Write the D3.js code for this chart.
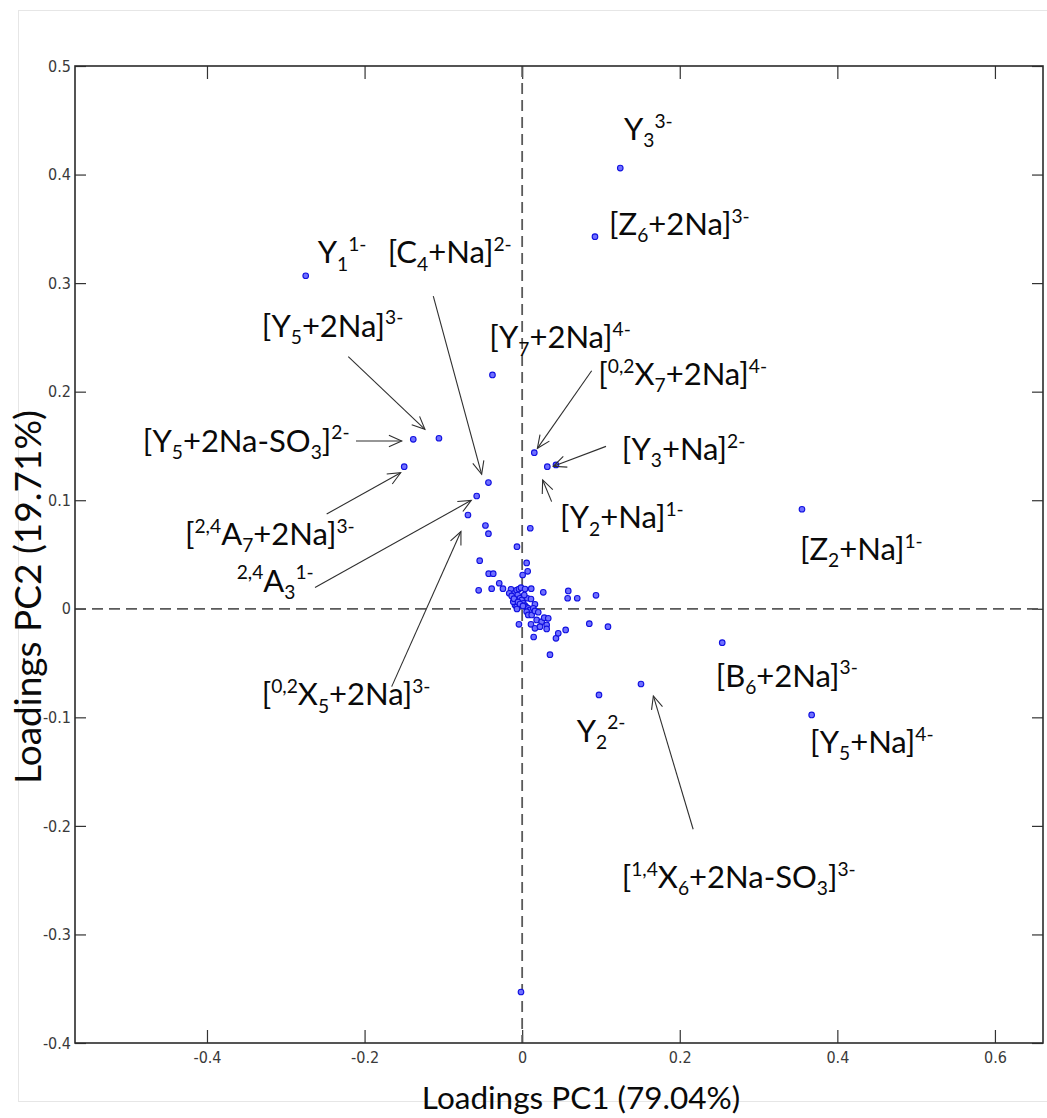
<!DOCTYPE html>
<html><head><meta charset="utf-8">
<script src="https://cdn.jsdelivr.net/npm/d3@7"></script>
<style>body{margin:0;background:#fff}svg{display:block}</style>
</head><body>
<svg id="chart" width="1047" height="1118"></svg>
<script>
// ---- data: loadings on PC1 / PC2 ----
const pc1 = [0.1245,0.0924,-0.2747,-0.0377,-0.1382,-0.1056,-0.1497,0.0154,0.0319,0.0429,
  0.3551,-0.0428,-0.0577,-0.0688,-0.0466,-0.0428,0.0103,-0.0066,-0.0539,0.0057,
  0.0070,-0.0425,-0.0367,0.0006,-0.0291,-0.0244,-0.0387,-0.0552,0.0115,0.0268,
  0.0585,0.0577,0.0699,0.0937,0.0852,0.1089,0.0353,0.0429,0.0552,0.0146,
  -0.0041,0.0112,0.0184,0.0247,0.0280,0.0311,0.0331,0.0162,0.0226,0.0311,
  0.0458,0.2539,0.0975,0.1508,0.3674,-0.0015,-0.0142,-0.0100,-0.0070,-0.0041,
  -0.0015,0.0036,-0.0057,-0.0028,-0.0006,0.0014,0.0036,0.0057,0.0077,0.0099,
  0.0065,0.0112,0.0162,0.0141,0.0057,0.0077,0.0121,0.0162,0.0204,-0.0091,
  -0.0070,-0.0113,0.0027,-0.0164,-0.0133,-0.0104,-0.0053,-0.0028,0.0010,-0.0066];
const pc2 = [0.4060,0.3428,0.3068,0.2154,0.1561,0.1571,0.1309,0.1438,0.1309,0.1325,
  0.0917,0.1163,0.1039,0.0864,0.0767,0.0692,0.0742,0.0572,0.0443,0.0422,
  0.0345,0.0323,0.0323,0.0311,0.0235,0.0185,0.0185,0.0170,0.0185,0.0152,
  0.0164,0.0097,0.0097,0.0124,-0.0137,-0.0165,-0.0423,-0.0272,-0.0195,-0.0260,
  -0.0143,-0.0143,-0.0103,-0.0119,-0.0082,-0.0149,-0.0088,-0.0180,-0.0165,-0.0186,
  -0.0226,-0.0312,-0.0794,-0.0693,-0.0978,-0.3530,0.0180,0.0143,0.0173,0.0182,
  0.0194,0.0182,0.0127,0.0097,0.0081,0.0051,0.0029,0.0014,0.0005,-0.0011,
  0.0097,0.0090,0.0041,0.0005,-0.0027,-0.0057,-0.0057,-0.0020,-0.0032,0.0035,
  0.0019,0.0065,0.0127,0.0143,0.0118,0.0093,0.0063,0.0044,0.0026,-0.0002];

// ---- axes ----
const xTicks = [-0.4,-0.2,0,0.2,0.4,0.6];
const xTickLabels = ["-0.4","-0.2","0","0.2","0.4","0.6"];
const yTicks = [-0.4,-0.3,-0.2,-0.1,0,0.1,0.2,0.3,0.4,0.5];
const yTickLabels = ["-0.4","-0.3","-0.2","-0.1","0","0.1","0.2","0.3","0.4","0.5"];
const xTitle = "Loadings PC1 (79.04%)";
const yTitle = "Loadings PC2 (19.71%)";

// ---- annotations (text, anchor in PC1/PC2 units) ----
const labelTexts = ["Y_{3}^{3-}","[Z_{6}+2Na]^{3-}","Y_{1}^{1-}","[C_{4}+Na]^{2-}","[Y_{5}+2Na]^{3-}",
  "[Y_{7}+2Na]^{4-}","[^{0,2}X_{7}+2Na]^{4-}","[Y_{5}+2Na-SO_{3}]^{2-}","[Y_{3}+Na]^{2-}","[Y_{2}+Na]^{1-}",
  "[^{2,4}A_{7}+2Na]^{3-}","[Z_{2}+Na]^{1-}","^{2,4}A_{3}^{1-}","[B_{6}+2Na]^{3-}","[^{0,2}X_{5}+2Na]^{3-}",
  "Y_{2}^{2-}","[Y_{5}+Na]^{4-}","[^{1,4}X_{6}+2Na-SO_{3}]^{3-}"];
const labelPC1 = [0.1292,0.1102,-0.2595,-0.1707,-0.3306,-0.0418,0.0966,-0.4816,0.1263,0.0480,
  -0.4279,0.3525,-0.3623,0.2456,-0.3306,0.0692,0.3652,0.1263];
const labelPC2 = [0.4318,0.3443,0.3183,0.3183,0.2506,0.2400,0.2062,0.1447,0.1371,0.0742,
  0.0588,0.0450,0.0158,-0.0718,-0.0890,-0.1224,-0.1328,-0.2572];

// arrows: start -> end (PC1/PC2 units)
const arrowFromPC1 = [-0.1128,-0.2207,-0.2109,-0.2481,-0.2629,-0.1656,0.0882,0.1064,0.0374,0.2170];
const arrowFromPC2 = [0.2881,0.2322,0.1546,0.0873,0.0196,-0.0717,0.2193,0.1496,0.0987,-0.2031];
const arrowToPC1   = [-0.0514,-0.1234,-0.1529,-0.1542,-0.0646,-0.0777,0.0193,0.0396,0.0260,0.1665];
const arrowToPC2   = [0.1239,0.1653,0.1546,0.1253,0.0999,0.0711,0.1478,0.1312,0.1187,-0.0803];

// ---- drawing ----
const svg = d3.select("#chart");
const L = 75, R = 1043, T = 66, B = 1043;
const x = d3.scaleLinear().domain([-0.5675, 0.661]).range([L, R]);
const y = d3.scaleLinear().domain([-0.4, 0.5]).range([B, T]);

// faint outer figure border
svg.append("rect").attr("x",18.5).attr("y",10.5).attr("width",1040).attr("height",1091)
  .attr("fill","none").attr("stroke","#e6e6e6").attr("stroke-width",1);

const tickFont = "'Liberation Sans Narrow','Arial Narrow','DejaVu Sans Condensed',sans-serif";

function styleAxis(g){
  g.select(".domain").remove();
  g.selectAll(".tick line").attr("stroke","#333").attr("stroke-width",1.2);
  g.selectAll(".tick text").attr("fill","#3a3a3a").style("font-family",tickFont)
    .style("font-stretch","condensed").style("font-size","16px");
}
svg.append("g").attr("transform",`translate(0,${B})`)
  .call(d3.axisBottom(x).tickValues(xTicks).tickFormat((d,i)=>xTickLabels[i])
    .tickSizeInner(-13).tickSizeOuter(0).tickPadding(9)).call(styleAxis);
svg.append("g").attr("transform",`translate(0,${T})`)
  .call(d3.axisTop(x).tickValues(xTicks).tickFormat("").tickSizeInner(-13).tickSizeOuter(0)).call(styleAxis);
svg.append("g").attr("transform",`translate(${L},0)`)
  .call(d3.axisLeft(y).tickValues(yTicks).tickFormat((d,i)=>yTickLabels[i])
    .tickSizeInner(-11).tickSizeOuter(0).tickPadding(4)).call(styleAxis);
svg.append("g").attr("transform",`translate(${R},0)`)
  .call(d3.axisRight(y).tickValues(yTicks).tickFormat("").tickSizeInner(-11).tickSizeOuter(0)).call(styleAxis);

// zero lines
svg.append("line").attr("x1",x(0)).attr("x2",x(0)).attr("y1",T).attr("y2",B)
  .attr("stroke","#5a5a5a").attr("stroke-width",1.8).attr("stroke-dasharray","11,6");
svg.append("line").attr("x1",L).attr("x2",R).attr("y1",y(0)).attr("y2",y(0))
  .attr("stroke","#5a5a5a").attr("stroke-width",1.8).attr("stroke-dasharray","11,6");

// frame
svg.append("rect").attr("x",L).attr("y",T).attr("width",R-L).attr("height",B-T)
  .attr("fill","none").attr("stroke","#2b2b2b").attr("stroke-width",1.6);

// points
svg.append("g").selectAll("circle").data(pc1.map((v,i)=>[v,pc2[i]])).join("circle")
  .attr("cx",d=>x(d[0])).attr("cy",d=>y(d[1])).attr("r",2.8)
  .attr("fill","#7070ff").attr("stroke","#1010e0").attr("stroke-width",1.1);

// arrows
const ag = svg.append("g").attr("stroke","#2f2f2f").attr("stroke-width",1.1).attr("fill","none");
arrowFromPC1.forEach((_,i)=>{
  const x1=x(arrowFromPC1[i]), y1=y(arrowFromPC2[i]), x2=x(arrowToPC1[i]), y2=y(arrowToPC2[i]);
  ag.append("line").attr("x1",x1).attr("y1",y1).attr("x2",x2).attr("y2",y2);
  const a = Math.atan2(y2-y1,x2-x1), hl = 14, ha = 0.42;
  const p = [[x2-hl*Math.cos(a-ha), y2-hl*Math.sin(a-ha)],[x2,y2],[x2-hl*Math.cos(a+ha), y2-hl*Math.sin(a+ha)]];
  ag.append("path").attr("d", d3.line()(p));
});

// rich text labels
function rich(sel, str, fs){
  const re = /([_^])\{([^}]*)\}|([^_^]+)/g;
  let shift = 0, m;
  while((m = re.exec(str))){
    let target = 0, size = fs, content;
    if(m[1]){ content = m[2]; size = fs*0.62; target = m[1]==="_" ? fs*0.24 : -fs*0.40; }
    else content = m[3];
    sel.append("tspan").attr("dy", target-shift).style("font-size", size+"px").text(content);
    shift = target;
  }
}
const lg = svg.append("g").style("font-family","Lato,'Open Sans',sans-serif").attr("fill","#0a0a0a");
labelTexts.forEach((t,i)=>{
  const tx = lg.append("text").attr("x",x(labelPC1[i])).attr("y",y(labelPC2[i]));
  rich(tx, t, 31);
});

// axis titles
svg.append("text").attr("x",581).attr("y",1109).attr("text-anchor","middle")
  .style("font-family","Lato,'Open Sans',sans-serif").style("font-size","31.5px").attr("fill","#0a0a0a").text(xTitle);
svg.append("text").attr("transform","translate(41,597) rotate(-90)").attr("text-anchor","middle")
  .style("font-family","Lato,'Open Sans',sans-serif").style("font-size","37px").attr("fill","#0a0a0a").text(yTitle);
</script>
</body></html>
